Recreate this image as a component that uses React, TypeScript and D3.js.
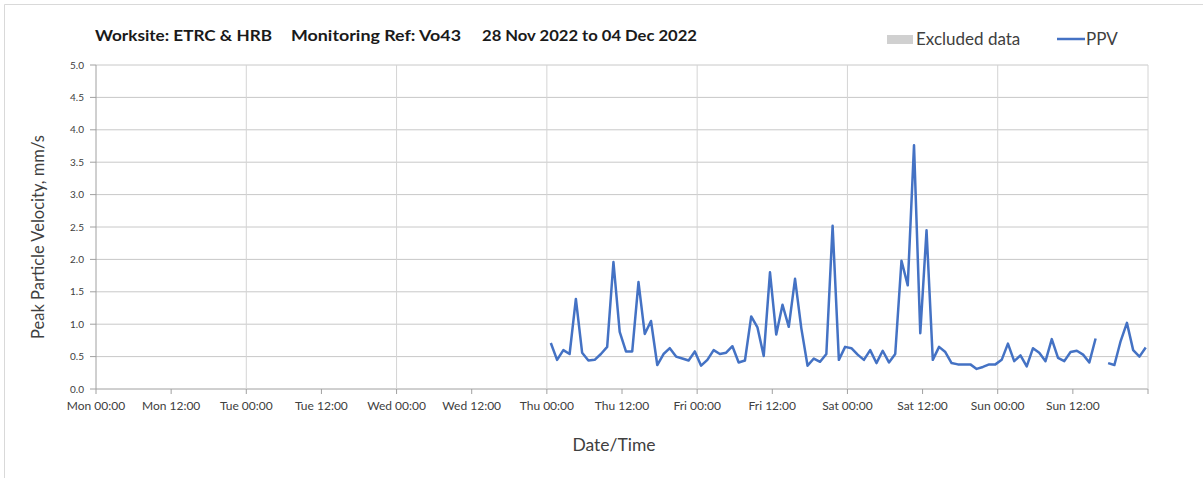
import React from "react";
import * as d3 from "d3";

const titleParts = ["Worksite: ETRC & HRB", "Monitoring Ref: Vo43", "28 Nov 2022 to 04 Dec 2022"];
const legendLabels = ["Excluded data", "PPV"];
const yTicks = [0, 0.5, 1, 1.5, 2, 2.5, 3, 3.5, 4, 4.5, 5];
const weekStart = new Date(2022, 10, 28, 0, 0);
const weekEnd = new Date(2022, 11, 5, 0, 0);
const firstSample = new Date(2022, 11, 1, 0, 38);
// hourly PPV peaks, mm/s (null = no data)
const ppv: (number | null)[] = [
  0.71, 0.45, 0.60, 0.54, 1.39, 0.56, 0.44, 0.45, 0.54, 0.65, 1.96, 0.88,
  0.58, 0.58, 1.65, 0.85, 1.05, 0.37, 0.54, 0.63, 0.50, 0.47, 0.44, 0.58,
  0.36, 0.45, 0.60, 0.54, 0.56, 0.66, 0.41, 0.44, 1.12, 0.95, 0.51, 1.80,
  0.84, 1.30, 0.96, 1.70, 0.94, 0.36, 0.47, 0.42, 0.54, 2.52, 0.45, 0.65,
  0.63, 0.53, 0.45, 0.60, 0.40, 0.59, 0.41, 0.54, 1.98, 1.60, 3.76, 0.86,
  2.45, 0.45, 0.65, 0.57, 0.40, 0.38, 0.38, 0.38, 0.31, 0.34, 0.38, 0.38,
  0.45, 0.70, 0.43, 0.52, 0.35, 0.63, 0.56, 0.43, 0.77, 0.48, 0.43, 0.57,
  0.59, 0.53, 0.41, 0.78, null, 0.40, 0.37, 0.74, 1.02, 0.60, 0.50, 0.64,
];

export default function App() {
  const W = 1203, H = 478;
  const left = 96, right = 1148, top = 65, bottom = 389;
  const x = d3.scaleTime().domain([weekStart, weekEnd]).range([left, right]);
  const y = d3.scaleLinear().domain([0, 5]).range([bottom, top]);
  const pts = ppv.map((v, i) => ({ t: d3.timeHour.offset(firstSample, i), v }));
  const line = d3
    .line<{ t: Date; v: number | null }>()
    .defined((d) => d.v != null)
    .x((d) => x(d.t))
    .y((d) => y(d.v as number));
  const halfDays = d3.timeHour.every(12)!.range(weekStart, d3.timeHour.offset(weekEnd, 1));
  const days = d3.timeDay.range(d3.timeDay.offset(weekStart, 1), d3.timeHour.offset(weekEnd, 1));
  const fmt = d3.timeFormat("%a %H:%M");
  const font = "Lato, 'Open Sans', sans-serif";
  const grid = "#c8c8c8";
  const vgrid = "#d4d4d4";
  const axis = "#a0a0a0";
  const txt = "#404040";
  const titleX = [[95, 272], [291, 461], [482, 697]];

  return (
    <svg width={W} height={H} style={{ position: "absolute", left: 0, top: 0, background: "#fff" }} fontFamily={font}>
      <rect x={0} y={0} width={W} height={H} fill="#fff" />
      <path d={`M4.5,${H} V4.5 H${W}`} fill="none" stroke="#d9d9d9" />
      {/* horizontal gridlines */}
      {yTicks.map((t) => (
        <line key={"g" + t} x1={left} x2={right} y1={y(t)} y2={y(t)} stroke={t === 0 ? axis : grid} strokeWidth={1} />
      ))}
      {/* vertical day gridlines */}
      {days.map((d) => (
        <line key={"v" + d.getTime()} x1={x(d)} x2={x(d)} y1={top} y2={bottom} stroke={vgrid} strokeWidth={1} />
      ))}
      {/* y axis */}
      <line x1={left} x2={left} y1={top} y2={bottom} stroke={axis} />
      {yTicks.map((t) => (
        <g key={"yt" + t}>
          <line x1={left - 6} x2={left} y1={y(t)} y2={y(t)} stroke={axis} />
          <text x={84} y={y(t)} dy="0.35em" textAnchor="end" fontSize={10} fill={txt}>
            {t.toFixed(1)}
          </text>
        </g>
      ))}
      {/* x axis ticks */}
      {halfDays.map((d) => (
        <g key={"xt" + d.getTime()}>
          <line x1={x(d)} x2={x(d)} y1={bottom} y2={bottom + 5} stroke={axis} />
          {d < weekEnd && (
            <text x={x(d)} y={410} textAnchor="middle" fontSize={12} fill={txt}>
              {fmt(d)}
            </text>
          )}
        </g>
      ))}
      {/* data line */}
      <path d={line(pts) || ""} fill="none" stroke="#4472C4" strokeWidth={2.5} strokeLinejoin="round" />
      {/* titles */}
      {titleParts.map((s, i) => (
        <text key={s} x={titleX[i][0]} y={41} fontSize={15} fontWeight="bold" fill="#1a1a1a"
          textLength={titleX[i][1] - titleX[i][0]} lengthAdjust="spacingAndGlyphs">
          {s}
        </text>
      ))}
      <text transform={`translate(44,${237}) rotate(-90)`} textAnchor="middle" fontSize={16.5} fill={txt}>
        Peak Particle Velocity, mm/s
      </text>
      <text x={614} y={451} textAnchor="middle" fontSize={17.5} fill={txt}>
        Date/Time
      </text>
      {/* legend */}
      <rect x={887} y={35} width={26} height={9} fill="#d0d0d0" />
      <text x={916} y={45} fontSize={17} fill={txt}>{legendLabels[0]}</text>
      <line x1={1057} x2={1085} y1={39} y2={39} stroke="#4472C4" strokeWidth={2.5} />
      <text x={1086} y={45} fontSize={17} fill={txt}>{legendLabels[1]}</text>
    </svg>
  );
}
